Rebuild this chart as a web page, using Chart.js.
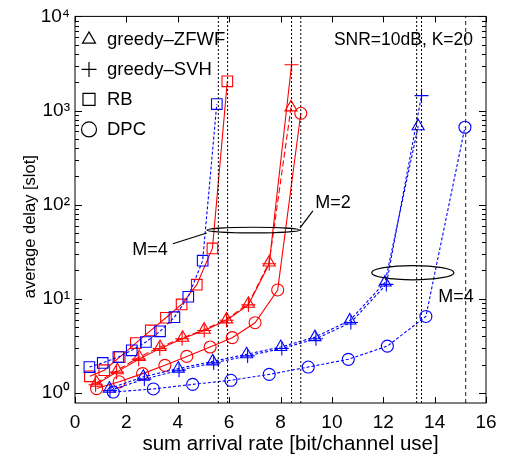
<!DOCTYPE html>
<html>
<head>
<meta charset="utf-8">
<script src="https://cdn.jsdelivr.net/npm/chart.js@4.4.0/dist/chart.umd.min.js"></script>
<style>
  html, body { margin: 0; padding: 0; background: #fff; }
</style>
</head>
<body>
<canvas id="myChart" width="506" height="457"></canvas>
<script>
// M=2 curves (red)
const zfwf2X = [0.84, 1.65, 2.50, 3.31, 4.19, 5.03, 5.90, 6.75, 7.56, 8.41];
const zfwf2Y = [1.28, 1.74, 2.40, 3.07, 3.85, 4.69, 6.03, 8.83, 24.3, 1080];
const svh2X  = [0.80, 1.62, 2.48, 3.30, 4.17, 5.03, 5.90, 6.75, 7.56, 8.43];
const svh2Y  = [1.22, 1.66, 2.28, 2.95, 3.75, 4.60, 5.90, 8.60, 23.5, 3060];
const rb2X   = [0.58, 1.14, 1.74, 2.37, 2.95, 3.54, 4.15, 4.74, 5.35, 5.93];
const rb2Y   = [1.50, 1.74, 2.40, 3.38, 4.61, 6.28, 8.69, 14.1, 34.2, 2040];
const dpc2X  = [0.84, 1.72, 2.63, 3.50, 4.35, 5.26, 6.12, 7.01, 7.89, 8.79];
const dpc2Y  = [1.11, 1.31, 1.60, 1.96, 2.44, 3.07, 3.86, 5.56, 12.4, 934];

// M=4 curves (blue)
const zfwf4X = [1.34, 2.66, 4.02, 5.36, 6.68, 8.01, 9.34, 10.70, 12.07, 13.36];
const zfwf4Y = [1.11, 1.48, 1.81, 2.16, 2.57, 3.07, 3.91, 5.88, 14.9, 681];
const svh4X  = [1.36, 2.70, 4.05, 5.40, 6.72, 8.05, 9.38, 10.74, 12.12, 13.49];
const svh4Y  = [1.06, 1.40, 1.74, 2.08, 2.47, 2.96, 3.75, 5.60, 14.2, 1438];
const rb4X   = [0.56, 1.08, 1.69, 2.21, 2.76, 3.31, 3.87, 4.41, 4.97, 5.52];
const rb4Y   = [1.88, 2.08, 2.40, 2.83, 3.47, 4.50, 6.37, 10.5, 25.4, 1172];
const dpc4X  = [1.49, 3.05, 4.58, 6.07, 7.56, 9.08, 10.64, 12.16, 13.66, 15.18];
const dpc4Y  = [1.02, 1.10, 1.23, 1.36, 1.57, 1.88, 2.27, 3.14, 6.48, 664];

// stability limits (vertical lines)
const limitX = [5.58, 5.94, 8.43, 8.79, 13.30, 13.49, 15.21];

const legendNames = ['greedy\u2013ZFWF', 'greedy\u2013SVH', 'RB', 'DPC'];
const legendMarks = ['triangle', 'cross', 'rect', 'circle'];

const xTicks = [0, 2, 4, 6, 8, 10, 12, 14, 16];
const yTicks = [1, 10, 100, 1000, 10000];
const sup = ['\u2070', '\u00b9', '\u00b2', '\u00b3', '\u2074'];

const xTitle = 'sum arrival rate [bit/channel use]';
const yTitle = 'average delay [slot]';

const Y_MIN = 0.78, Y_MAX = 10000;
const FONT = 'Liberation Sans, Arial, Helvetica, sans-serif';

function pts(xs, ys) { return xs.map((x, i) => ({ x: x, y: ys[i] })); }

const RED = '#ff0000', BLUE = '#0000ff';

function curve(label, xs, ys, color, mark, r, dash) {
  return {
    label: label,
    data: pts(xs, ys),
    borderColor: color,
    borderWidth: 1.1,
    borderDash: dash,
    pointStyle: mark,
    pointRadius: r,
    pointBorderColor: color,
    pointBackgroundColor: 'rgba(0,0,0,0)',
    pointBorderWidth: 1.1,
    tension: 0
  };
}

const datasets = [];
limitX.forEach((x, i) => {
  datasets.push({
    label: 'limit' + i,
    data: [{ x: x, y: Y_MIN }, { x: x, y: Y_MAX }],
    borderColor: i === limitX.length - 1 ? '#4a0030' : '#000000',
    borderWidth: 1,
    borderDash: i === limitX.length - 1 ? [4, 3] : [2, 2],
    pointRadius: 0
  });
});
datasets.push(curve('DPC M=4', dpc4X, dpc4Y, BLUE, 'circle', 6, [3, 2]));
datasets.push(curve('RB M=4', rb4X, rb4Y, BLUE, 'rect', 7.5, [3, 2]));
datasets.push(curve('SVH M=4', svh4X, svh4Y, BLUE, 'cross', 7, [3, 2]));
datasets.push(curve('ZFWF M=4', zfwf4X, zfwf4Y, BLUE, 'triangle', 7, [3, 2]));
datasets.push(curve('DPC M=2', dpc2X, dpc2Y, RED, 'circle', 6, []));
datasets.push(curve('RB M=2', rb2X, rb2Y, RED, 'rect', 7.5, []));
datasets.push(curve('SVH M=2', svh2X, svh2Y, RED, 'cross', 7, []));
datasets.push(curve('ZFWF M=2', zfwf2X, zfwf2Y, RED, 'triangle', 7, [6, 3]));

// box, inward ticks, axis titles, legend and annotations
const decor = {
  id: 'decor',
  afterDatasetsDraw(chart) {
    const ctx = chart.ctx;
    const a = chart.chartArea;
    const xs = chart.scales.x, ys = chart.scales.y;
    ctx.save();
    ctx.strokeStyle = '#000';
    ctx.lineWidth = 1;
    ctx.setLineDash([]);
    ctx.strokeRect(a.left, a.top, a.right - a.left, a.bottom - a.top);
    ctx.beginPath();
    xTicks.forEach(v => {
      const px = Math.round(xs.getPixelForValue(v)) + 0.5;
      ctx.moveTo(px, a.bottom); ctx.lineTo(px, a.bottom - 6);
      ctx.moveTo(px, a.top); ctx.lineTo(px, a.top + 6);
    });
    for (let d = 1; d <= 10000; d *= 10) {
      for (let m = 1; m < 10; m++) {
        const v = d * m;
        if (v > Y_MAX) break;
        const py = Math.round(ys.getPixelForValue(v)) + 0.5;
        const len = m === 1 ? 7 : 4;
        ctx.moveTo(a.left, py); ctx.lineTo(a.left + len, py);
        ctx.moveTo(a.right, py); ctx.lineTo(a.right - len, py);
      }
    }
    ctx.stroke();

    // axis titles
    ctx.fillStyle = '#000';
    ctx.textAlign = 'center';
    ctx.textBaseline = 'alphabetic';
    ctx.font = '20.5px ' + FONT;
    ctx.fillText(xTitle, (a.left + a.right) / 2 + 10, 450);
    ctx.save();
    ctx.translate(35, (a.top + a.bottom) / 2 + 17);
    ctx.rotate(-Math.PI / 2);
    ctx.font = '16.5px ' + FONT;
    ctx.fillText(yTitle, 0, 0);
    ctx.restore();

    // legend
    ctx.textAlign = 'left';
    ctx.font = '18.5px ' + FONT;
    ctx.textBaseline = 'middle';
    legendNames.forEach((name, i) => {
      const y = a.top + 23 + i * 30;
      ctx.lineWidth = 1.2;
      ctx.strokeStyle = '#000';
      ctx.fillStyle = 'rgba(0,0,0,0)';
      Chart.helpers.drawPoint(ctx, { pointStyle: legendMarks[i], radius: legendMarks[i] === 'rect' ? 8.5 : 7.5, borderWidth: 1.2, rotation: 0 }, a.left + 14, y);
      ctx.fillStyle = '#000';
      ctx.fillText(name, a.left + 32, y + 1);
    });
    ctx.font = '17.5px ' + FONT;
    ctx.textAlign = 'right';
    ctx.fillText('SNR=10dB, K=20', a.right - 13, a.top + 24);

    // annotations
    const ell = (x0, x1, yLo, yHi) => {
      const p0 = xs.getPixelForValue(x0), p1 = xs.getPixelForValue(x1);
      const q0 = ys.getPixelForValue(yLo), q1 = ys.getPixelForValue(yHi);
      ctx.beginPath();
      ctx.ellipse((p0 + p1) / 2, (q0 + q1) / 2, (p1 - p0) / 2, Math.abs(q0 - q1) / 2, 0, 0, Math.PI * 2);
      ctx.stroke();
    };
    const seg = (x0, y0, x1, y1) => {
      ctx.beginPath();
      ctx.moveTo(xs.getPixelForValue(x0), ys.getPixelForValue(y0));
      ctx.lineTo(xs.getPixelForValue(x1), ys.getPixelForValue(y1));
      ctx.stroke();
    };
    ctx.strokeStyle = '#000';
    ctx.lineWidth = 1.2;
    ell(5.13, 8.76, 50, 57.5);
    ell(11.55, 14.75, 15.9, 22.5);
    seg(3.81, 38.4, 5.13, 50);
    seg(8.76, 56.7, 9.26, 85.7);
    ctx.textAlign = 'center';
    ctx.fillStyle = '#000';
    ctx.font = '18px ' + FONT;
    ctx.fillText('M=4', xs.getPixelForValue(2.92), ys.getPixelForValue(33));
    ctx.fillText('M=2', xs.getPixelForValue(10.04), ys.getPixelForValue(104));
    ctx.fillText('M=4', xs.getPixelForValue(14.83), ys.getPixelForValue(10.5));
    ctx.restore();
  }
};

const ctx = document.getElementById('myChart');

new Chart(ctx, {
  type: 'line',
  data: { datasets: datasets },
  plugins: [decor],
  options: {
    responsive: false,
    animation: false,
    devicePixelRatio: 1,
    layout: { padding: { top: 15, right: 20, left: 0, bottom: 0 } },
    plugins: { legend: { display: false }, tooltip: { enabled: false } },
    scales: {
      x: {
        type: 'linear',
        min: 0, max: 16,
        afterFit(s) { s.height = 54; },
        afterBuildTicks(s) { s.ticks = xTicks.map(v => ({ value: v })); },
        grid: { display: false, drawTicks: false },
        border: { display: false },
        ticks: { color: '#000', padding: 8, font: { size: 19, family: FONT }, maxRotation: 0 }
      },
      y: {
        type: 'logarithmic',
        min: Y_MIN, max: Y_MAX,
        afterFit(s) { s.width = 75; },
        afterBuildTicks(s) { s.ticks = yTicks.map(v => ({ value: v })); },
        grid: { display: false, drawTicks: false },
        border: { display: false },
        ticks: {
          color: '#000', padding: 5, font: { size: 19, family: FONT },
          callback: v => '10' + sup[Math.round(Math.log10(v))]
        }
      }
    }
  }
});
</script>
</body>
</html>
